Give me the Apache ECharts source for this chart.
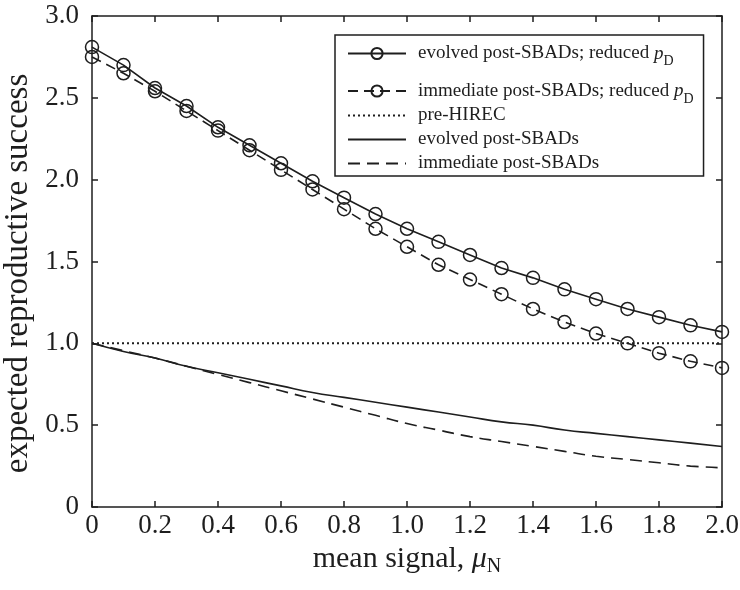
<!DOCTYPE html>
<html><head><meta charset="utf-8">
<script src="https://cdn.jsdelivr.net/npm/echarts@6/dist/echarts.min.js"></script>
<style>html,body{margin:0;padding:0;background:#fff}#c{width:740px;height:590px}</style>
</head><body><div id="c"></div>
<script>
// ---- data ----
const xValues = [0,0.1,0.2,0.3,0.4,0.5,0.6,0.7,0.8,0.9,1.0,1.1,1.2,1.3,1.4,1.5,1.6,1.7,1.8,1.9,2.0];
const evolvedReduced   = [2.81,2.70,2.56,2.45,2.32,2.21,2.10,1.99,1.89,1.79,1.70,1.62,1.54,1.46,1.40,1.33,1.27,1.21,1.16,1.11,1.07];
const immediateReduced = [2.75,2.65,2.54,2.42,2.30,2.18,2.06,1.94,1.82,1.70,1.59,1.48,1.39,1.30,1.21,1.13,1.06,1.00,0.94,0.89,0.85];
const preHirecX = [0, 2.0];
const preHirec  = [1.0, 1.0];
const evolved   = [1.00,0.95,0.91,0.86,0.82,0.78,0.74,0.70,0.67,0.64,0.61,0.58,0.55,0.52,0.50,0.47,0.45,0.43,0.41,0.39,0.37];
const immediate = [1.00,0.955,0.91,0.86,0.81,0.76,0.71,0.66,0.61,0.56,0.51,0.47,0.43,0.40,0.37,0.34,0.31,0.29,0.27,0.25,0.24];
const seriesNames = ['evolved post-SBADs; reduced pD','immediate post-SBADs; reduced pD','pre-HIREC','evolved post-SBADs','immediate post-SBADs'];
const legendLabels = {
  'evolved post-SBADs; reduced pD': '{t|evolved post-SBADs; reduced }{i|p}{s|D}',
  'immediate post-SBADs; reduced pD': '{t|immediate post-SBADs; reduced }{i|p}{s|D}',
  'pre-HIREC': '{t|pre-HIREC}',
  'evolved post-SBADs': '{t|evolved post-SBADs}',
  'immediate post-SBADs': '{t|immediate post-SBADs}'
};
const xAxisTitle = '{a|mean signal, }{i|μ}{s|N}';
const yAxisTitle = 'expected reproductive success';

// ---- chart ----
const FONT = "'Liberation Serif', 'DejaVu Serif', serif";
const INK = '#1e1e1e';
const pairs = (xs, ys) => xs.map((x, i) => [x, ys[i]]);
const fmt = v => (v === 0 ? '0' : v.toFixed(1));

const chart = echarts.init(document.getElementById('c'), null, {renderer: 'canvas'});
const axisCommon = {
  type: 'value',
  axisLine: {show: true, onZero: false, lineStyle: {color: INK, width: 1.5}},
  axisTick: {show: true, inside: true, length: 6, lineStyle: {color: INK, width: 1.5}},
  splitLine: {show: false}
};
const markerStyle = {color: 'transparent', borderColor: INK, borderWidth: 1.5};
const LFS = 19;
const legendRich = {
  t: {fontFamily: FONT, fontSize: LFS, color: INK, lineHeight: 24},
  i: {fontFamily: FONT, fontSize: LFS, fontStyle: 'italic', color: INK, lineHeight: 24},
  s: {fontFamily: FONT, fontSize: 14, color: INK, verticalAlign: 'bottom', lineHeight: 30}
};
const legendCommon = {
  orient: 'vertical', itemWidth: 58, itemHeight: 14,
  formatter: name => legendLabels[name],
  textStyle: {fontFamily: FONT, fontSize: LFS, color: INK, padding: [0, 0, 0, 7], rich: legendRich}
};
const hiddenSym = {color: 'transparent', borderWidth: 0};

chart.setOption({
  backgroundColor: '#fff',
  animation: false,
  grid: {left: 92, right: 18, top: 16, bottom: 83, containLabel: false, outerBoundsMode: 'none'},
  xAxis: [
    Object.assign({}, axisCommon, {
      min: 0, max: 2.0, interval: 0.2, position: 'bottom',
      axisLabel: {formatter: fmt, fontFamily: FONT, fontSize: 27, color: INK, margin: 5},
      name: xAxisTitle, nameLocation: 'middle', nameGap: 21,
      nameTextStyle: {fontFamily: FONT, fontSize: 30, color: INK,
        rich: {a: {fontFamily: FONT, fontSize: 30, color: INK, lineHeight: 36},
               i: {fontFamily: FONT, fontSize: 30, fontStyle: 'italic', color: INK, lineHeight: 36},
               s: {fontFamily: FONT, fontSize: 20, color: INK, verticalAlign: 'bottom', lineHeight: 36}}}
    }),
    Object.assign({}, axisCommon, {
      min: 0, max: 2.0, interval: 0.2, position: 'top', axisLabel: {show: false}
    })
  ],
  yAxis: [
    Object.assign({}, axisCommon, {
      min: 0, max: 3.0, interval: 0.5, position: 'left',
      axisLabel: {formatter: fmt, fontFamily: FONT, fontSize: 27, color: INK, margin: 13},
      name: yAxisTitle, nameLocation: 'middle', nameGap: 54, nameRotate: 90,
      nameTextStyle: {fontFamily: FONT, fontSize: 33, color: INK, padding: [0, 24, 0, 0]}
    }),
    Object.assign({}, axisCommon, {
      min: 0, max: 3.0, interval: 0.5, position: 'right', axisLabel: {show: false}
    })
  ],
  legend: [
    Object.assign({}, legendCommon, {
      left: 335, top: 35,
      borderColor: INK, borderWidth: 1.5, borderRadius: 0,
      padding: [9, 10, 70, 12], itemGap: 13,
      data: [seriesNames[0], seriesNames[1]]
    }),
    Object.assign({}, legendCommon, {
      left: 347, top: 106, padding: 0, itemGap: 5,
      data: [
        {name: seriesNames[2], itemStyle: hiddenSym},
        {name: seriesNames[3], itemStyle: hiddenSym},
        {name: seriesNames[4], itemStyle: hiddenSym}
      ]
    })
  ],
  series: [
    {name: seriesNames[0], type: 'line', data: pairs(xValues, evolvedReduced),
     symbol: 'circle', symbolSize: 13, itemStyle: markerStyle,
     lineStyle: {color: INK, width: 1.6, type: 'solid'}, z: 5},
    {name: seriesNames[1], type: 'line', data: pairs(xValues, immediateReduced),
     symbol: 'circle', symbolSize: 13, itemStyle: markerStyle,
     lineStyle: {color: INK, width: 1.6, type: [10, 6]}, z: 5},
    {name: seriesNames[2], type: 'line', data: pairs(preHirecX, preHirec),
     symbol: 'none', itemStyle: {color: INK},
     lineStyle: {color: INK, width: 2, type: [2, 3]}},
    {name: seriesNames[3], type: 'line', data: pairs(xValues, evolved), smooth: true,
     symbol: 'none', itemStyle: {color: INK},
     lineStyle: {color: INK, width: 1.6, type: 'solid'}},
    {name: seriesNames[4], type: 'line', data: pairs(xValues, immediate), smooth: true,
     symbol: 'none', itemStyle: {color: INK},
     lineStyle: {color: INK, width: 1.6, type: [12, 7]}}
  ]
});
</script>
</body></html>
